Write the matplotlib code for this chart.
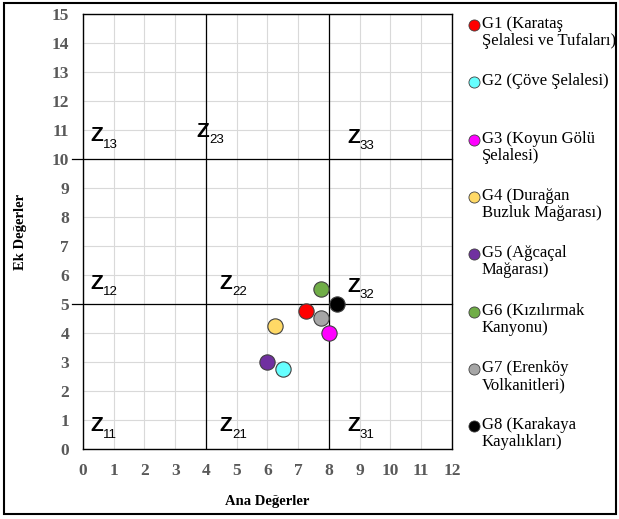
import matplotlib
matplotlib.use("Agg")
import matplotlib.pyplot as plt
from matplotlib.patches import Rectangle

plt.rcParams['font.family'] = ['Liberation Serif', 'DejaVu Serif']

# data
labels = ["G1 (Karataş\nŞelalesi ve Tufaları)", "G2 (Çöve Şelalesi)",
          "G3 (Koyun Gölü\nŞelalesi)", "G4 (Durağan\nBuzluk Mağarası)",
          "G5 (Ağcaçal\nMağarası)", "G6 (Kızılırmak\nKanyonu)",
          "G7 (Erenköy\nVolkanitleri)", "G8 (Karakaya\nKayalıkları)"]
ana = [7.25, 6.5, 8.0, 6.25, 6.0, 7.75, 7.75, 8.25]
ek = [4.75, 2.75, 4.0, 4.25, 3.0, 5.5, 4.5, 5.0]
colors = ['#FF0000', '#66FFFF', '#FF00FF', '#FFD966',
          '#7030A0', '#70AD47', '#A6A6A6', '#000000']

zones = ['11', '12', '13', '21', '22', '23', '31', '32', '33']
zone_x = [0.25, 0.25, 0.25, 4.45, 4.45, 3.7, 8.6, 8.6, 8.6]
zone_y = [0.8, 5.7, 10.8, 0.8, 5.7, 10.95, 0.8, 5.6, 10.75]

fig = plt.figure(figsize=(6.19, 5.19), dpi=100)
ax = fig.add_axes([0.134, 0.135, 0.596, 0.838])

ax.set_xlim(0, 12)
ax.set_ylim(0, 15)
ax.set_xticks(range(0, 13))
ax.set_yticks(range(0, 16))
ax.grid(True, color='#D9D9D9', linewidth=0.8)
ax.set_axisbelow(True)
ax.tick_params(length=0, labelsize=12.5, labelcolor='#595959', pad=10)
for lab in ax.get_xticklabels() + ax.get_yticklabels():
    lab.set_fontweight('bold')
for s in ax.spines.values():
    s.set_color('black')
    s.set_linewidth(1.0)

# zone boundaries
for xv in [4, 8]:
    ax.axvline(xv, color='black', linewidth=0.9)
for yv in [5, 10]:
    ax.plot([-0.35, 12], [yv, yv], color='black', linewidth=0.9, clip_on=False)

for z, zx, zy in zip(zones, zone_x, zone_y):
    ax.text(zx, zy, 'Z', fontsize=15, fontweight='bold', family='Liberation Sans',
            va='center', ha='left')
    ax.annotate(z, (zx, zy), xytext=(9, -8.5), textcoords='offset points',
                fontsize=9.5, family='Liberation Sans', va='baseline', ha='left')

for x, y, c in zip(ana, ek, colors):
    ax.plot(x, y, 'o', markersize=11, markerfacecolor=c,
            markeredgecolor='#404040', markeredgewidth=0.8, zorder=5)

ax.set_xlabel('Ana Değerler', fontsize=10.5, fontweight='bold', labelpad=12)
ax.set_ylabel('Ek Değerler', fontsize=10.5, fontweight='bold')
ax.yaxis.set_label_coords(-56 / 369, 0.5)

# legend on the right
leg_top = 1 - 25 / 519
leg_step = 57.3 / 519
for i, (lab, c) in enumerate(zip(labels, colors)):
    yy = leg_top - i * leg_step
    fig.lines.append(plt.Line2D([474 / 619], [yy], marker='o', markersize=8,
                                markerfacecolor=c, markeredgecolor='#404040',
                                markeredgewidth=0.6, transform=fig.transFigure))
    fig.text(482 / 619, yy + 9 / 519, lab, fontsize=12, va='top', ha='left',
             linespacing=1.1)

fig.patches.append(Rectangle((4 / 619, 5 / 519), 612 / 619, 511 / 519,
                             fill=False, edgecolor='black', linewidth=1.5,
                             transform=fig.transFigure))

fig.savefig('out.png', dpi=100)
